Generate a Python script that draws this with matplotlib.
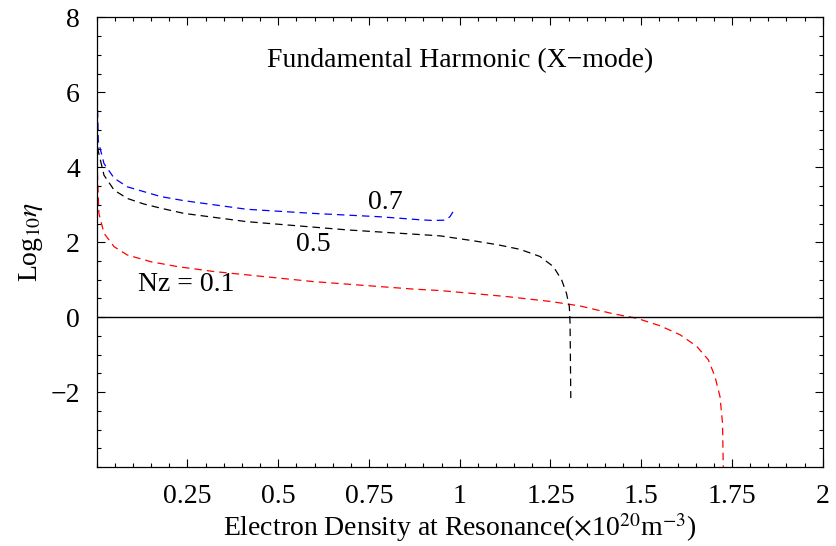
import matplotlib
matplotlib.use('Agg')
import matplotlib.pyplot as plt
from matplotlib.ticker import MultipleLocator, FixedLocator

plt.rcParams['font.family'] = ['Liberation Serif', 'DejaVu Serif']
plt.rcParams['mathtext.fontset'] = 'stix'

# ── 曲线数据 ──
x_01 = [0.0003, 0.001, 0.002, 0.006, 0.020, 0.048, 0.084, 0.149, 0.222, 0.321, 0.596, 0.871,
        0.946, 1.129, 1.249, 1.331, 1.423, 1.488, 1.552, 1.607, 1.653, 1.685, 1.703, 1.717,
        1.724, 1.726]
y_01 = [8.2, 5.2, 3.84, 2.77, 2.24, 1.88, 1.66, 1.48, 1.35, 1.22, 0.95, 0.75,
        0.71, 0.55, 0.42, 0.30, 0.09, -0.03, -0.23, -0.47, -0.78, -1.14, -1.58, -2.12,
        -2.83, -4.0]

x_05 = [0.0003, 0.001, 0.0036, 0.020, 0.048, 0.084, 0.130, 0.176, 0.240, 0.413, 0.689, 0.946,
        1.037, 1.106, 1.166, 1.221, 1.258, 1.281, 1.294, 1.302, 1.304, 1.306]
y_05 = [8.2, 6.0, 4.46, 3.79, 3.39, 3.17, 3.02, 2.91, 2.77, 2.55, 2.33, 2.17,
        2.04, 1.93, 1.81, 1.62, 1.35, 0.99, 0.64, 0.28, -0.16, -2.16]

x_07 = [0.0003, 0.001, 0.0036, 0.020, 0.048, 0.084, 0.130, 0.176, 0.240, 0.413, 0.596, 0.78,
        0.890, 0.927, 0.960, 0.973, 0.982, 0.985]
y_07 = [8.2, 6.3, 4.73, 4.1, 3.71, 3.48, 3.35, 3.22, 3.11, 2.88, 2.77, 2.68,
        2.60, 2.58, 2.59, 2.68, 2.82, 2.91]

x_ticks = [0.25, 0.5, 0.75, 1, 1.25, 1.5, 1.75, 2]
x_tick_labels = ['0.25', '0.5', '0.75', '1', '1.25', '1.5', '1.75', '2']
y_ticks = [-2, 0, 2, 4, 6, 8]
y_tick_labels = ['\u22122', '0', '2', '4', '6', '8']

fig = plt.figure(figsize=(8.36, 5.46), dpi=100)
ax = fig.add_axes([0.1157, 0.1447, 0.8684, 0.8233])

dash = (0, (6, 4))
ax.plot(x_01, y_01, color='red', lw=0.9, linestyle=dash)
ax.plot(x_05, y_05, color='black', lw=0.9, linestyle=dash)
ax.plot(x_07, y_07, color='blue', lw=0.9, linestyle=dash)
ax.axhline(0, color='black', lw=1.0)

ax.set_xlim(0, 2)
ax.set_ylim(-4, 8)
ax.xaxis.set_major_locator(FixedLocator(x_ticks))
ax.set_xticklabels(x_tick_labels)
ax.xaxis.set_minor_locator(MultipleLocator(0.05))
ax.yaxis.set_major_locator(FixedLocator(y_ticks))
ax.set_yticklabels(y_tick_labels)
ax.yaxis.set_minor_locator(MultipleLocator(0.5))
ax.tick_params(which='both', direction='in', top=True, right=True, labelsize=20, width=0.8)
ax.tick_params(which='major', length=6)
ax.tick_params(which='minor', length=3)
ax.tick_params(axis='x', which='major', pad=12)
ax.tick_params(axis='y', which='major', pad=12)
for s in ax.spines.values():
    s.set_linewidth(0.9)

ax.text(0.5, 0.905, 'Fundamental Harmonic (X\u2212mode)', transform=ax.transAxes,
        ha='center', va='center', fontsize=20)
ax.text(0.794, 3.07, '0.7', ha='center', va='center', fontsize=20)
ax.text(0.596, 1.93, '0.5', ha='center', va='center', fontsize=20)
ax.text(0.247, 0.87, 'Nz = 0.1', ha='center', va='center', fontsize=20)

ax.set_xlabel(r'Electron Density at Resonance($\times$10$^{20}$m$^{-3}$)', fontsize=20, labelpad=2)
ax.set_ylabel(r'Log$_{10}\eta$', fontsize=20, labelpad=4)

fig.savefig('out.png', dpi=100)
